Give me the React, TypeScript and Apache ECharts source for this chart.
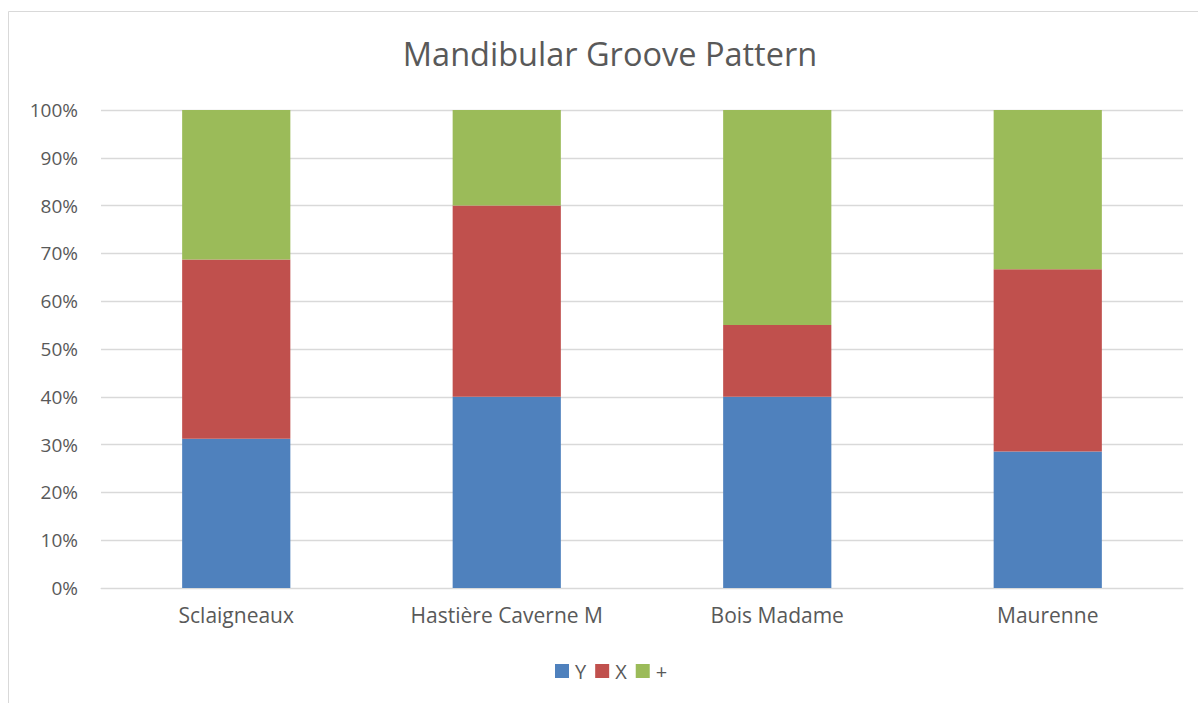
import React, { useEffect, useRef } from "react";
import * as echarts from "echarts";

const categories = ["Sclaigneaux", "Hastière Caverne M", "Bois Madame", "Maurenne"];
const seriesNames = ["Y", "X", "+"];
const yValues = [31.25, 40, 40, 28.57];
const xValues = [37.5, 40, 15, 38.1];
const plusValues = [31.25, 20, 45, 33.33];
const colors = ["#4F81BD", "#C0504D", "#9BBB59"];

export default function App() {
  const ref = useRef<HTMLDivElement>(null);
  useEffect(() => {
    if (!ref.current) return;
    const chart = echarts.init(ref.current, null, { renderer: "svg" });
    const font = "'Open Sans', 'Noto Sans', sans-serif";
    const data = [yValues, xValues, plusValues];
    chart.setOption({
      animation: false,
      backgroundColor: "#ffffff",
      title: {
        text: "Mandibular Groove Pattern",
        left: 605,
        textAlign: "center",
        top: 32,
        textStyle: { fontFamily: font, fontSize: 32.5, fontWeight: "normal", color: "#595959" },
      },
      graphic: [
        {
          type: "rect",
          shape: { x: 8.5, y: 11.5, width: 1300, height: 800 },
          style: { fill: "none", stroke: "#d9d9d9", lineWidth: 1 },
          silent: true,
        },
      ],
      legend: {
        data: seriesNames,
        top: 661,
        left: 555,
        itemWidth: 14,
        itemHeight: 14,
        itemGap: 9,
        icon: "rect",
        padding: 0,
        textStyle: { fontFamily: font, fontSize: 20, color: "#595959", padding: [0, 0, 0, 1] },
      },
      grid: { left: 101, right: 15, top: 110, bottom: 115, containLabel: false },
      xAxis: {
        type: "category",
        data: categories,
        axisLine: { lineStyle: { color: "#d9d9d9" } },
        axisTick: { show: false },
        axisLabel: { fontFamily: font, fontSize: 21, color: "#595959", margin: 16 },
      },
      yAxis: {
        type: "value",
        min: 0,
        max: 100,
        interval: 10,
        axisLine: { show: false },
        axisTick: { show: false },
        splitLine: { lineStyle: { color: "#d9d9d9", width: 1.3 } },
        axisLabel: {
          fontFamily: font,
          fontSize: 19,
          color: "#595959",
          margin: 23,
          formatter: (v: number) => `${v}%`,
        },
      },
      series: seriesNames.map((name, i) => ({
        name,
        type: "bar",
        stack: "total",
        barWidth: "40%",
        data: data[i],
        itemStyle: { color: colors[i] },
      })),
    });
    return () => chart.dispose();
  }, []);
  return (
    <div
      ref={ref}
      style={{ position: "fixed", left: 0, top: 0, width: 1198, height: 703 }}
    />
  );
}
